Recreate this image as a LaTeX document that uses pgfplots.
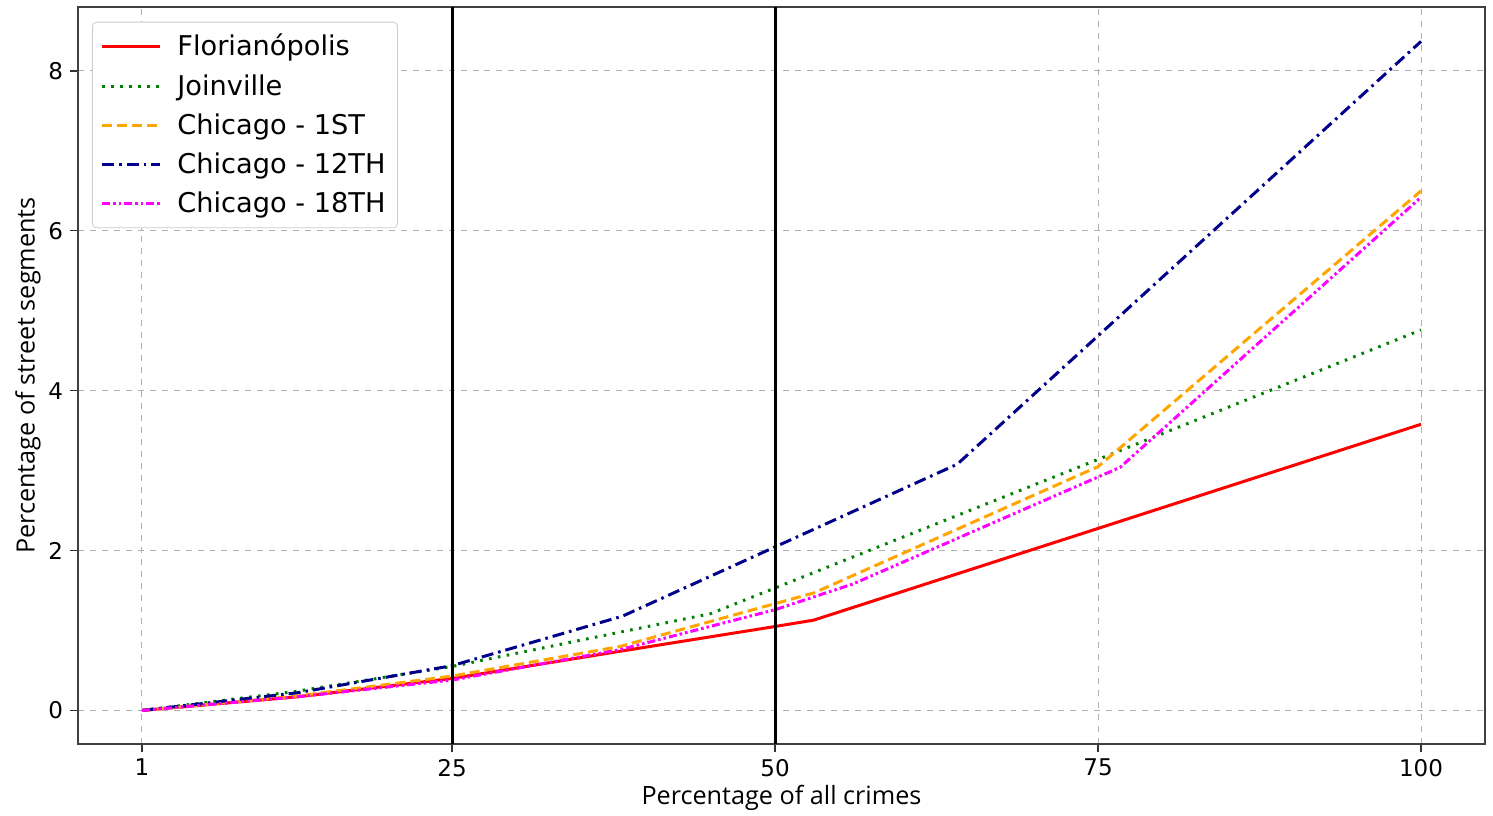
\documentclass[border=0pt]{standalone}
\usepackage{pgfplots}
\pgfplotsset{compat=1.18}
\usepackage{fontspec}
\setmainfont{DejaVu Sans}
\newfontfamily\labelfont{Open Sans}
\definecolor{mgreen}{HTML}{008000}
\definecolor{morange}{HTML}{FFA500}
\definecolor{mblue}{HTML}{00008B}
\definecolor{mmag}{HTML}{FF00FF}
\definecolor{gridgray}{HTML}{B0B0B0}
\begin{document}
\begin{tikzpicture}
\begin{axis}[
  scale only axis,
  width=703.5bp, height=368.5bp,
  xmin=-3.95, xmax=104.95,
  ymin=-0.42, ymax=8.8,
  xtick={1,25,50,75,100},
  ytick={0,2,4,6,8},
  tick align=outside,
  tick pos=left,
  major tick length=4bp,
  tick style={line width=0.6bp, black!80},
  /pgf/number format/assume math mode=true,
  ticklabel style={font=\fontsize{11.5bp}{13bp}\selectfont},
  grid=major,
  major grid style={dashed, gridgray, line width=0.5bp},
  axis line style={line width=0.8bp, black!75},
  xlabel={\labelfont\fontsize{12.6bp}{14bp}\selectfont Percentage of all crimes},
  ylabel={\labelfont\fontsize{12.6bp}{14bp}\selectfont Percentage of street segments},
  xlabel style={at={(axis description cs:0.5,-0.0733)}, anchor=center},
  ylabel style={at={(axis description cs:-0.0355,0.5)}, anchor=center},
  legend style={at={(0.01,0.98)}, anchor=north west, draw=black!20, rounded corners=2bp,
    font=\fontsize{13.6bp}{15bp}\selectfont, row sep=3.8bp, inner sep=4bp},
  legend cell align=left,
  legend image code/.code={\draw[#1] (0bp,0bp) -- (29bp,0bp); \path (35bp,0bp);},
]
\addplot[red, line width=1.5bp] coordinates {(1,0) (13,0.17) (25,0.40) (38,0.74) (50,1.05) (53,1.13) (100,3.58)};
\addlegendentry{Florianópolis}
\addplot[mgreen, line width=1.5bp, dash pattern=on 1.3bp off 3.2bp] coordinates {(1,0) (13,0.24) (25,0.55) (45,1.21) (75,3.14) (100,4.76)};
\addlegendentry{Joinville}
\addplot[morange, line width=1.5bp, dash pattern=on 5bp off 2.5bp] coordinates {(1,0) (13,0.18) (25,0.43) (38,0.80) (53,1.47) (75,3.05) (100,6.50)};
\addlegendentry{Chicago - 1ST}
\addplot[mblue, line width=1.5bp, dash pattern=on 6bp off 2.5bp on 1.3bp off 2.5bp] coordinates {(1,0) (13,0.22) (25,0.56) (38.2,1.18) (64.1,3.08) (100,8.37)};
\addlegendentry{Chicago - 12TH}
\addplot[mmag, line width=1.5bp, dash pattern=on 4bp off 1.5bp on 1.3bp off 1.5bp on 1.3bp off 1.5bp] coordinates {(1,0) (13,0.17) (25,0.38) (38,0.76) (50,1.26) (56,1.58) (76.7,3.04) (100,6.42)};
\addlegendentry{Chicago - 18TH}
\addplot[black, line width=1.5bp, forget plot] coordinates {(25,-0.42) (25,8.8)};
\addplot[black, line width=1.5bp, forget plot] coordinates {(50,-0.42) (50,8.8)};
\end{axis}
\pgfresetboundingbox
\path[use as bounding box] ([shift={(-39bp,-36bp)}]current axis.south west) rectangle ([shift={(4bp,3.5bp)}]current axis.north east);
\end{tikzpicture}
\end{document}
